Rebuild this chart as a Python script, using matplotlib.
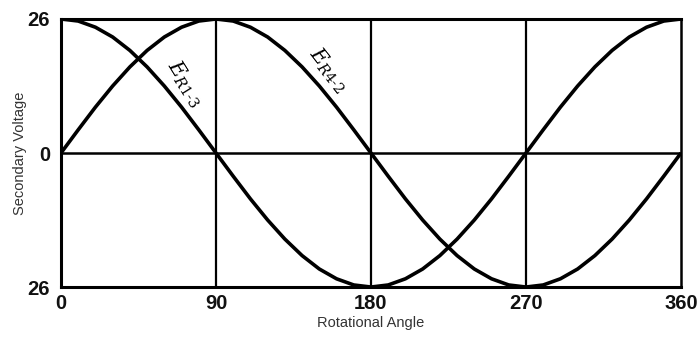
import matplotlib
matplotlib.use("Agg")
import matplotlib.pyplot as plt
from matplotlib.ticker import FixedLocator, FixedFormatter

# Rotor angle in degrees, sampled every 10 degrees
angle = list(range(0, 361, 10))

# Secondary voltage on winding R1-3 (peak 26)
e_r13 = [26.0, 25.6, 24.4, 22.5, 19.9, 16.7, 13.0, 8.9, 4.5,
         0.0, -4.5, -8.9, -13.0, -16.7, -19.9, -22.5, -24.4, -25.6,
         -26.0, -25.6, -24.4, -22.5, -19.9, -16.7, -13.0, -8.9, -4.5,
         0.0, 4.5, 8.9, 13.0, 16.7, 19.9, 22.5, 24.4, 25.6, 26.0]

# Secondary voltage on winding R4-2 (peak 26)
e_r42 = [0.0, 4.5, 8.9, 13.0, 16.7, 19.9, 22.5, 24.4, 25.6,
         26.0, 25.6, 24.4, 22.5, 19.9, 16.7, 13.0, 8.9, 4.5,
         0.0, -4.5, -8.9, -13.0, -16.7, -19.9, -22.5, -24.4, -25.6,
         -26.0, -25.6, -24.4, -22.5, -19.9, -16.7, -13.0, -8.9, -4.5, 0.0]

x_ticks = [0, 90, 180, 270, 360]
x_tick_labels = ["0", "90", "180", "270", "360"]
y_ticks = [-26, 0, 26]
y_tick_labels = ["26", "0", "26"]

narrow = ["Liberation Sans Narrow", "Liberation Sans", "DejaVu Sans"]

fig = plt.figure(figsize=(6.97, 3.45), dpi=100)
ax = fig.add_axes([0.0875, 0.168, 0.8895, 0.777])

ax.plot(angle, e_r13, color="black", lw=2.6, solid_capstyle="butt", zorder=3)
ax.plot(angle, e_r42, color="black", lw=2.6, solid_capstyle="butt", zorder=3)

# Reference grid: zero line and quarter-turn verticals
ax.axhline(0, color="black", lw=1.8, zorder=2)
for xv in x_ticks[1:-1]:
    ax.axvline(xv, color="black", lw=1.6, zorder=2)

ax.set_xlim(0, 360)
ax.set_ylim(-26, 26)

for side in ["left", "top", "bottom", "right"]:
    ax.spines[side].set_linewidth(2.2 if side != "right" else 1.8)
    ax.spines[side].set_color("black")

ax.xaxis.set_major_locator(FixedLocator(x_ticks))
ax.xaxis.set_major_formatter(FixedFormatter(x_tick_labels))
ax.yaxis.set_major_locator(FixedLocator(y_ticks))
ax.yaxis.set_major_formatter(FixedFormatter(y_tick_labels))
ax.tick_params(axis="x", length=0, pad=5)
ax.tick_params(axis="y", length=0, pad=8)
for lab in ax.get_xticklabels() + ax.get_yticklabels():
    lab.set_family(narrow)
    lab.set_fontweight("bold")
    lab.set_fontsize(14.5)
    lab.set_color("#111111")

ax.set_xlabel("Rotational Angle", family=narrow, fontsize=10.5,
              color="#333333", labelpad=2)
ax.set_ylabel("Secondary Voltage", family=narrow, fontsize=10.5,
              color="#333333", labelpad=0)

# Curve labels written along the falling slopes
plt.rcParams["mathtext.fontset"] = "dejavuserif"
ax.text(72, 13.5, r"$E_{\mathit{R1\text{-}3}}$", rotation=-58,
        ha="center", va="center", fontsize=15, color="black", zorder=4)
ax.text(155, 16.0, r"$E_{\mathit{R4\text{-}2}}$", rotation=-52,
        ha="center", va="center", fontsize=15, color="black", zorder=4)

fig.savefig("out.png", dpi=100, facecolor="white")
